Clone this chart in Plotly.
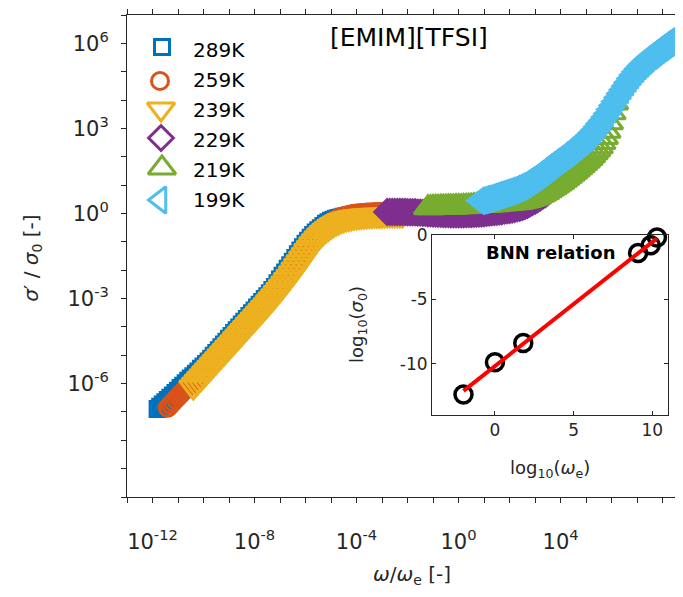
import numpy as np
import plotly.graph_objects as go

# ---------------- data ----------------
TEMPS = ["289K", "259K", "239K", "229K", "219K", "199K"]
COLORS = ["#0072BD", "#D95319", "#EDB120", "#7E2F8E", "#77AC30", "#4DBEEE"]
SYMBOLS = ["square-open", "circle-open", "triangle-down-open",
           "diamond-open", "triangle-up-open", "triangle-left-open"]
SIZES = [15, 17, 24, 19, 24, 23]

# log10 of the measured angular frequency grid (same for every temperature)
LOG_OMEGA = [-1.5, -1.4, -1.3, -1.2, -1.1, -1.0, -0.9, -0.8, -0.7, -0.6,
             -0.5, -0.4, -0.3, -0.2, -0.1, 0.0, 0.1, 0.2, 0.3, 0.4,
             0.5, 0.6, 0.7, 0.8, 0.9, 1.0, 1.1, 1.2, 1.3, 1.4,
             1.5, 1.6, 1.7, 1.8, 1.9, 2.0, 2.1, 2.2, 2.3, 2.4,
             2.5, 2.6, 2.7, 2.8, 2.9, 3.0, 3.1, 3.2, 3.3, 3.4,
             3.5, 3.6, 3.7, 3.8, 3.9, 4.0, 4.1, 4.2, 4.3, 4.4,
             4.5, 4.6, 4.7, 4.8, 4.9, 5.0, 5.1, 5.2, 5.3, 5.4,
             5.5, 5.6, 5.7, 5.8, 5.9, 6.0, 6.1, 6.2, 6.3, 6.4,
             6.5, 6.6, 6.7, 6.8, 6.9]

# BNN inset: log10(omega_e) and log10(sigma_0) per temperature
LOG_WE = [10.3, 9.9, 9.1, 1.8, 0.0, -2.0]
LOG_SIGMA0 = [-0.2, -0.8, -1.4, -8.4, -9.9, -12.4]

# log10(sigma'/sigma_0) per temperature, on the LOG_OMEGA grid (None = not shown)
SIG_289 = [-6.90, -6.82, -6.74, -6.66, -6.58, -6.50, -6.42, -6.33, -6.25, -6.16,
           -6.08, -5.99, -5.90, -5.82, -5.74, -5.65, -5.57, -5.48, -5.40, -5.31,
           -5.22, -5.12, -5.02, -4.92, -4.82, -4.72, -4.62, -4.52, -4.42, -4.32,
           -4.22, -4.12, -4.02, -3.92, -3.82, -3.72, -3.62, -3.52, -3.42, -3.32,
           -3.22, -3.12, -3.02, -2.92, -2.81, -2.70, -2.59, -2.46, -2.33, -2.20,
           -2.08, -1.95, -1.83, -1.70, -1.57, -1.44, -1.31, -1.19, -1.07, -0.96,
           -0.86, -0.76, -0.67, -0.59, -0.52, -0.44, -0.36, -0.31, -0.26, -0.22,
           -0.19, -0.16, -0.14, -0.12, -0.10, -0.08, -0.07, -0.06, -0.05, -0.04,
           -0.03, -0.03, -0.02, -0.02, -0.01]
SIG_259 = [-6.85, -6.75, -6.66, -6.56, -6.47, -6.37, -6.28, -6.19, -6.10, -6.01,
           -5.92, -5.83, -5.74, -5.64, -5.55, -5.45, -5.36, -5.26, -5.17, -5.07,
           -4.97, -4.87, -4.77, -4.67, -4.57, -4.47, -4.37, -4.27, -4.17, -4.07,
           -3.97, -3.87, -3.77, -3.67, -3.57, -3.47, -3.37, -3.27, -3.17, -3.06,
           -2.95, -2.84, -2.73, -2.61, -2.50, -2.38, -2.27, -2.15, -2.02, -1.89,
           -1.76, -1.63, -1.50, -1.37, -1.25, -1.13, -1.01, -0.90, -0.80, -0.70,
           -0.61, -0.53, -0.45, -0.38, -0.32, -0.26, -0.21, -0.17, -0.13, -0.10,
           -0.07, -0.05, -0.03, -0.01, 0.00, 0.01, 0.02, 0.02, 0.03, 0.03,
           0.04, 0.04, 0.05, 0.05, 0.05]
SIG_239 = [None, None, -6.12, -6.02, -5.92, -5.82, -5.72, -5.62, -5.52, -5.42,
           -5.32, -5.22, -5.12, -5.02, -4.92, -4.82, -4.72, -4.62, -4.52, -4.42,
           -4.32, -4.22, -4.12, -4.02, -3.92, -3.82, -3.72, -3.62, -3.52, -3.42,
           -3.32, -3.22, -3.11, -3.01, -2.90, -2.79, -2.68, -2.57, -2.45, -2.33,
           -2.21, -2.09, -1.96, -1.83, -1.70, -1.57, -1.44, -1.31, -1.19, -1.07,
           -0.96, -0.86, -0.76, -0.67, -0.59, -0.52, -0.45, -0.39, -0.34, -0.29,
           -0.25, -0.22, -0.19, -0.17, -0.15, -0.13, -0.12, -0.11, -0.10, -0.09,
           -0.08, -0.07, -0.07, -0.06, -0.06, -0.06, -0.06, -0.05, -0.05, -0.05,
           -0.05, -0.05, -0.05, -0.05, -0.05]
SIG_229 = [None, None, None, None, None, 0.05, 0.05, 0.05, 0.05, 0.05,
           0.05, 0.05, 0.05, 0.04, 0.04, 0.04, 0.04, 0.03, 0.03, 0.02,
           0.02, 0.01, 0.01, 0.00, 0.00, -0.01, -0.01, -0.02, -0.02, -0.02,
           -0.03, -0.03, -0.03, -0.03, -0.03, -0.03, -0.02, -0.02, -0.02, -0.01,
           -0.01, 0.00, 0.00, 0.01, 0.02, 0.03, 0.04, 0.05, 0.06, 0.07,
           0.08, 0.10, 0.11, 0.12, 0.14, 0.16, 0.18, 0.20, 0.23, 0.26,
           0.30, 0.35, 0.40, 0.45, 0.50, 0.56, 0.62, 0.68, 0.75]
SIG_219 = [None, None, None, 0.20, 0.20, 0.21, 0.21, 0.21, 0.22, 0.22,
           0.22, 0.23, 0.23, 0.23, 0.24, 0.24, 0.24, 0.25, 0.25, 0.26,
           0.26, 0.27, 0.27, 0.28, 0.28, 0.29, 0.29, 0.30, 0.31, 0.31,
           0.32, 0.33, 0.34, 0.34, 0.35, 0.36, 0.37, 0.38, 0.39, 0.40,
           0.42, 0.44, 0.46, 0.49, 0.52, 0.55, 0.59, 0.64, 0.69, 0.74,
           0.80, 0.86, 0.92, 0.98, 1.04, 1.10, 1.17, 1.24, 1.31, 1.38,
           1.45, 1.53, 1.61, 1.69, 1.77, 1.85, 1.94, 2.04, 2.14, 2.24,
           2.35, 2.50, 2.68, 2.90, 3.20, 3.55, 3.90]
SIG_199 = [None, None, None, 0.45, 0.47, 0.50, 0.52, 0.55, 0.58, 0.61,
           0.64, 0.67, 0.70, 0.73, 0.76, 0.79, 0.82, 0.86, 0.90, 0.94,
           0.98, 1.04, 1.10, 1.16, 1.22, 1.28, 1.35, 1.41, 1.48, 1.55,
           1.62, 1.69, 1.76, 1.83, 1.90, 1.96, 2.03, 2.09, 2.16, 2.23,
           2.30, 2.37, 2.45, 2.52, 2.60, 2.68, 2.77, 2.86, 2.95, 3.06,
           3.17, 3.28, 3.40, 3.53, 3.67, 3.81, 3.95, 4.09, 4.23, 4.36,
           4.50, 4.63, 4.76, 4.88, 5.00, 5.10, 5.20, 5.29, 5.38, 5.46,
           5.54, 5.61, 5.68, 5.75, 5.82, 5.88, 5.95, 6.01, 6.08, 6.14,
           6.20, 6.26, 6.32, 6.38, 6.45]
SIGMA_NORM = [SIG_289, SIG_259, SIG_239, SIG_229, SIG_219, SIG_199]

X_DECADES = list(range(-13, 9))
X_LABELLED = [-12, -8, -4, 0, 4]
Y_DECADES = list(range(-10, 8))
Y_LABELLED = [-6, -3, 0, 3, 6]
INSET_XTICKS = [0, 5, 10]
INSET_YTICKS = [-10, -5, 0]

INK = "#262626"
FONT = "DejaVu Sans"

fig = go.Figure()

# ---------------- main master curve ----------------
for i, t in enumerate(TEMPS):
    xs, ys = [], []
    for f, s in zip(LOG_OMEGA, SIGMA_NORM[i]):
        if s is None:
            continue
        xs.append(10 ** (f - LOG_WE[i]))
        ys.append(10 ** s)
    fig.add_trace(go.Scatter(
        x=xs, y=ys, mode="markers", name=t, showlegend=False,
        marker=dict(symbol=SYMBOLS[i], size=SIZES[i], color=COLORS[i], opacity=1,
                    line=dict(width=3, color=COLORS[i])),
        xaxis="x", yaxis="y"))

# ---------------- inset: BNN relation ----------------
slope, intercept = np.polyfit(LOG_WE, LOG_SIGMA0, 1)
fit_x = [min(LOG_WE), max(LOG_WE)]
fit_y = [slope * v + intercept for v in fit_x]
fig.add_trace(go.Scatter(
    x=LOG_WE, y=LOG_SIGMA0, mode="markers", showlegend=False, cliponaxis=False,
    marker=dict(symbol="circle-open", size=17, color="black", opacity=1,
                line=dict(width=3.5, color="black")),
    xaxis="x2", yaxis="y2"))
fig.add_trace(go.Scatter(
    x=fit_x, y=fit_y, mode="lines", showlegend=False,
    line=dict(color="#FF0000", width=4), xaxis="x2", yaxis="y2"))

# ---------------- legend (drawn in its own small axes) ----------------
LEG_MARK_X = [162, 160, 161, 161, 162, 160]
LEG_MARK_Y = [47, 81, 109, 138, 168, 200]
LEG_TEXT_Y = [50, 80, 110, 140, 170, 200]
fig.add_trace(go.Scatter(
    x=LEG_MARK_X, y=LEG_MARK_Y, mode="markers", showlegend=False, cliponaxis=False,
    marker=dict(symbol=SYMBOLS, size=SIZES, color=COLORS, opacity=1,
                line=dict(width=3, color=COLORS)),
    xaxis="x3", yaxis="y3", hoverinfo="skip"))

annotations = []
for t, ty in zip(TEMPS, LEG_TEXT_Y):
    annotations.append(dict(x=191, y=ty, xref="x3", yref="y3", text=t,
                            showarrow=False, xanchor="left", yanchor="middle",
                            font=dict(family=FONT, size=20, color="black")))

annotations += [
    dict(x=0.507, y=0.954, xref="paper", yref="paper", text="[EMIM][TFSI]",
         showarrow=False, xanchor="center", yanchor="middle",
         font=dict(family=FONT, size=25, color="black")),
    dict(x=-0.171, y=0.496, xref="paper", yref="paper",
         text="<i>σ</i>′ / <i>σ</i><sub>0</sub> [-]", textangle=-90,
         showarrow=False, xanchor="center", yanchor="middle",
         font=dict(family=FONT, size=20, color=INK)),
    dict(x=0.513, y=-0.162, xref="paper", yref="paper",
         text="<i>ω</i>/<i>ω</i><sub>e</sub> [-]",
         showarrow=False, xanchor="center", yanchor="middle",
         font=dict(family=FONT, size=20, color=INK)),
    dict(x=0.761, y=0.508, xref="paper", yref="paper", text="<b>BNN relation</b>",
         showarrow=False, xanchor="center", yanchor="middle",
         font=dict(family=FONT, size=18, color="black")),
    dict(x=0.4155, y=0.357, xref="paper", yref="paper",
         text="log<sub>10</sub>(<i>σ</i><sub>0</sub>)", textangle=-90,
         showarrow=False, xanchor="center", yanchor="middle",
         font=dict(family=FONT, size=18, color=INK)),
    dict(x=0.761, y=0.058, xref="paper", yref="paper",
         text="log<sub>10</sub>(<i>ω</i><sub>e</sub>)",
         showarrow=False, xanchor="center", yanchor="middle",
         font=dict(family=FONT, size=18, color=INK)),
]

common = dict(showline=True, linecolor=INK, linewidth=1, tickcolor=INK,
              tickwidth=1, showgrid=False, zeroline=False, automargin=False)

# the page body adds an 8 px margin, so the figure is 8 px smaller on each side
fig.update_layout(
    width=675, height=589,
    margin=dict(l=119, r=0, t=7, b=100, autoexpand=False),
    paper_bgcolor="white", plot_bgcolor="white",
    showlegend=False,
    annotations=annotations,
    xaxis=dict(type="log", range=[-13, 8.8], domain=[0, 1], anchor="y",
               tickvals=[10 ** n for n in X_LABELLED],
               ticktext=["10<sup>%d</sup>" % n for n in X_LABELLED],
               ticks="outside", ticklen=5, mirror="ticks",
               minor=dict(tickvals=[10 ** n for n in X_DECADES], ticks="outside",
                          ticklen=5, tickcolor=INK, tickwidth=1, showgrid=False),
               ticklabelstandoff=21,
               tickfont=dict(family=FONT, size=21, color=INK), **common),
    yaxis=dict(type="log", range=[-10, 7], domain=[0, 1], anchor="x",
               tickvals=[10 ** n for n in Y_LABELLED],
               ticktext=["10<sup>%d</sup>" % n for n in Y_LABELLED],
               ticks="outside", ticklen=5, mirror=False,
               minor=dict(tickvals=[10 ** n for n in Y_DECADES], ticks="outside",
                          ticklen=5, tickcolor=INK, tickwidth=1, showgrid=False),
               ticklabelstandoff=8,
               tickfont=dict(family=FONT, size=21, color=INK), **common),
    xaxis2=dict(domain=[0.5486, 0.973], anchor="y2", range=[-4, 11],
                tickvals=INSET_XTICKS, ticktext=[str(v) for v in INSET_XTICKS],
                ticks="inside", ticklen=4, mirror="ticks",
                tickfont=dict(family=FONT, size=17, color=INK), **common),
    yaxis2=dict(domain=[0.170, 0.5436], anchor="x2", range=[-14, 0],
                tickvals=INSET_YTICKS, ticktext=[str(v) for v in INSET_YTICKS],
                ticks="inside", ticklen=4, mirror="ticks",
                tickfont=dict(family=FONT, size=17, color=INK), **common),
    xaxis3=dict(domain=[0.0108, 0.2482], anchor="y3", range=[133, 265],
                visible=False, fixedrange=True, automargin=False),
    yaxis3=dict(domain=[0.5851, 0.9896], anchor="x3", range=[215, 20],
                visible=False, fixedrange=True, automargin=False),
)

fig.write_html("out.html")
